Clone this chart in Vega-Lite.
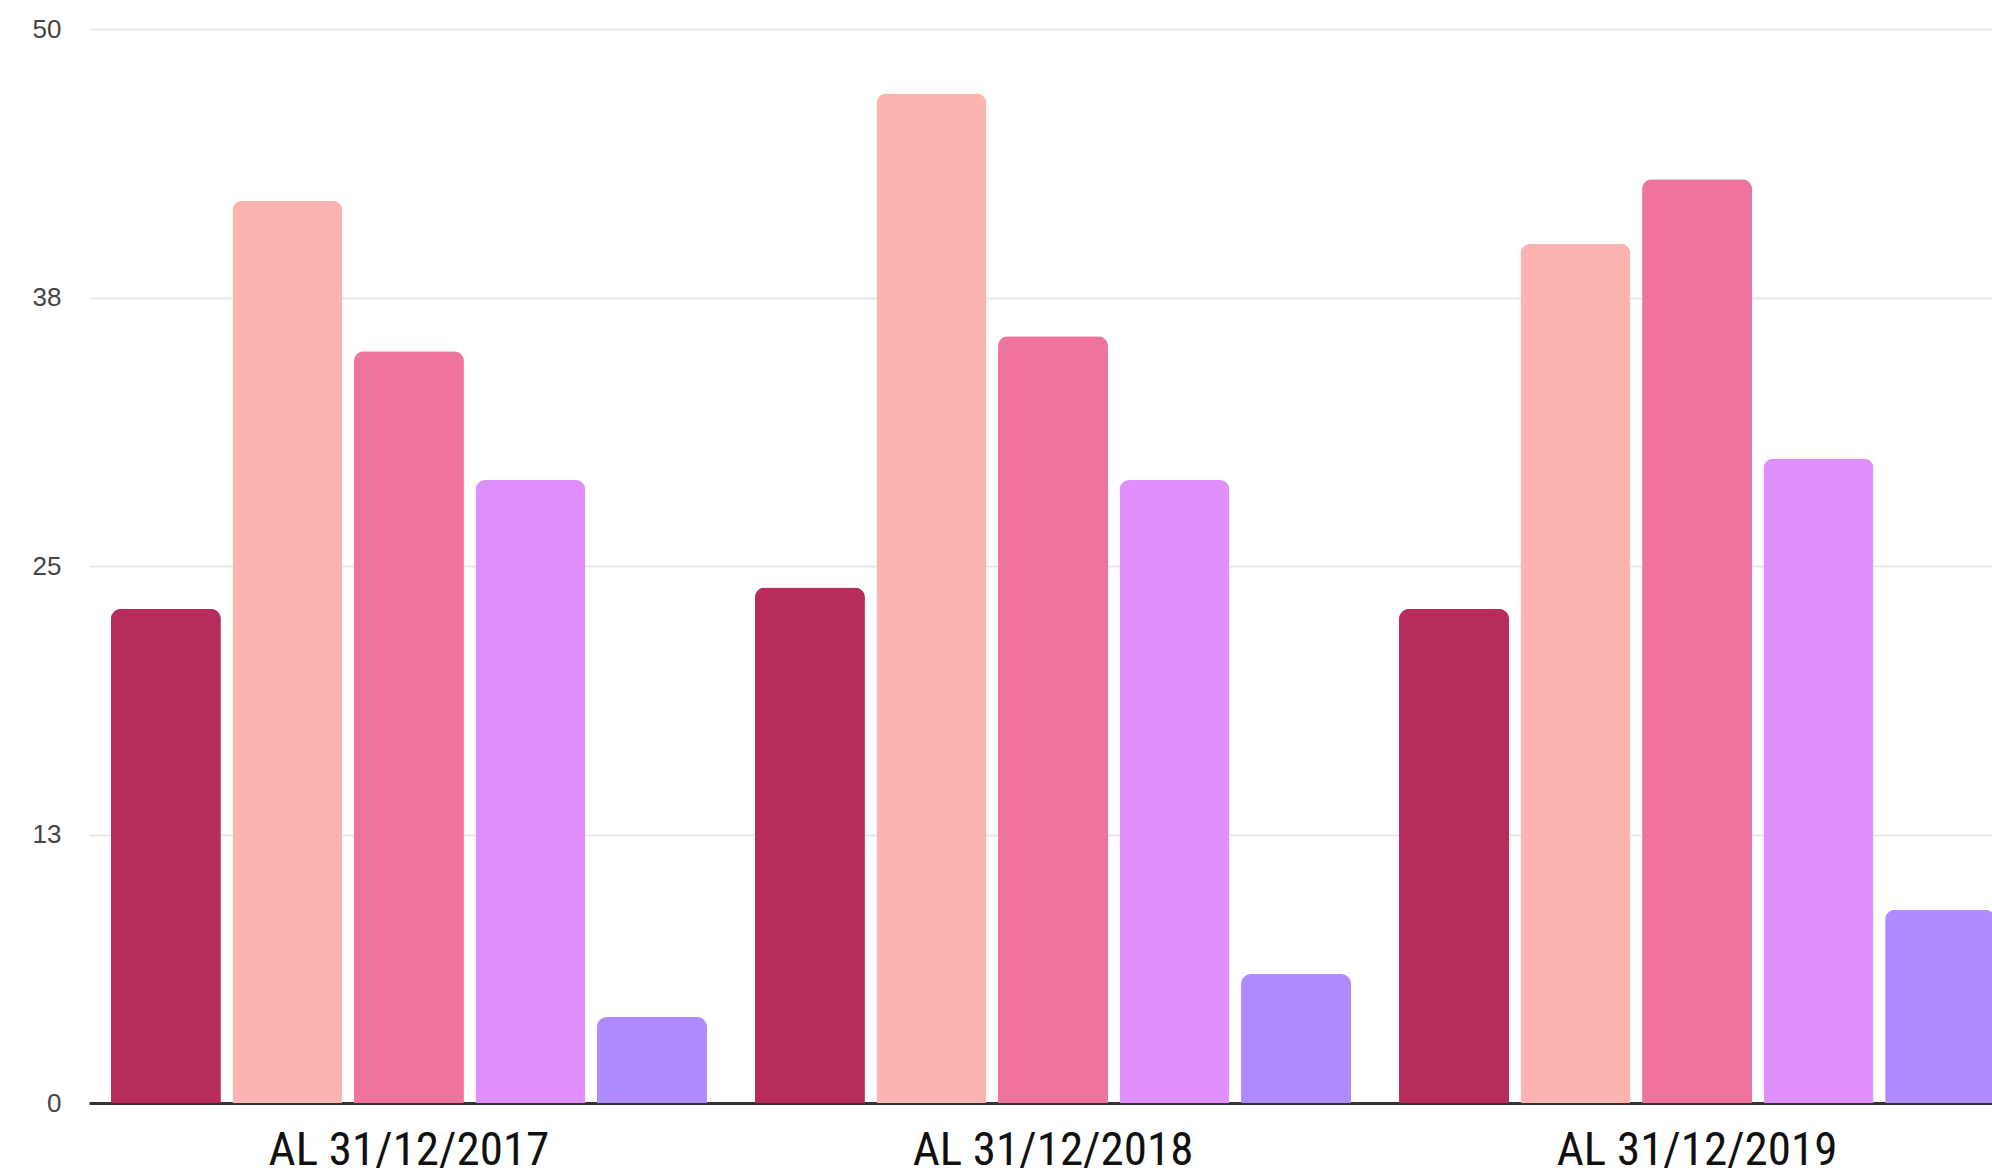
{
  "$schema": "https://vega.github.io/schema/vega-lite/v6.json",
  "width": 1903,
  "height": 1074,
  "autosize": {"type": "none"},
  "padding": {"left": 89, "top": 29, "right": 0, "bottom": 73},
  "background": "white",
  "config": {"view": {"stroke": null}},
  "data": {
    "values": [
      {"periodo": "AL 31/12/2017", "serie": "S1", "valor": 23},
      {"periodo": "AL 31/12/2017", "serie": "S2", "valor": 42},
      {"periodo": "AL 31/12/2017", "serie": "S3", "valor": 35},
      {"periodo": "AL 31/12/2017", "serie": "S4", "valor": 29},
      {"periodo": "AL 31/12/2017", "serie": "S5", "valor": 4},
      {"periodo": "AL 31/12/2018", "serie": "S1", "valor": 24},
      {"periodo": "AL 31/12/2018", "serie": "S2", "valor": 47},
      {"periodo": "AL 31/12/2018", "serie": "S3", "valor": 35.7},
      {"periodo": "AL 31/12/2018", "serie": "S4", "valor": 29},
      {"periodo": "AL 31/12/2018", "serie": "S5", "valor": 6},
      {"periodo": "AL 31/12/2019", "serie": "S1", "valor": 23},
      {"periodo": "AL 31/12/2019", "serie": "S2", "valor": 40},
      {"periodo": "AL 31/12/2019", "serie": "S3", "valor": 43},
      {"periodo": "AL 31/12/2019", "serie": "S4", "valor": 30},
      {"periodo": "AL 31/12/2019", "serie": "S5", "valor": 9}
    ]
  },
  "mark": {"type": "bar", "cornerRadiusTopLeft": 10, "cornerRadiusTopRight": 10},
  "encoding": {
    "x": {
      "field": "periodo",
      "type": "nominal",
      "sort": null,
      "scale": {"paddingInner": 0.0745, "paddingOuter": 0.034, "range": [0, 1928]},
      "axis": {
        "title": null,
        "ticks": false,
        "labelAngle": 0,
        "labelLimit": 0,
        "labelFont": "Liberation Sans Narrow, Roboto Condensed, DejaVu Sans Condensed, sans-serif",
        "labelFontSize": 47,
        "labelColor": "#111111",
        "labelBaseline": "alphabetic",
        "labelPadding": 61,
        "domainColor": "#333333",
        "domainWidth": 3,
        "grid": false
      }
    },
    "xOffset": {
      "field": "serie",
      "type": "nominal",
      "sort": null,
      "scale": {"paddingInner": 0.095, "paddingOuter": 0}
    },
    "y": {
      "field": "valor",
      "type": "quantitative",
      "scale": {"domain": [0, 50], "nice": false},
      "axis": {
        "title": null,
        "values": [0, 12.5, 25, 37.5, 50],
        "format": ".0f",
        "domain": false,
        "ticks": false,
        "labelPadding": 28,
        "labelFont": "Liberation Sans, Arial, sans-serif",
        "labelFontSize": 26,
        "labelColor": "#444444",
        "gridColor": "#e8e8e8",
        "gridWidth": 2
      }
    },
    "color": {
      "field": "serie",
      "type": "nominal",
      "legend": null,
      "scale": {
        "domain": ["S1", "S2", "S3", "S4", "S5"],
        "range": ["#B82C5A", "#FDB4B0", "#EE739D", "#E090FD", "#B08BFD"]
      }
    }
  }
}
